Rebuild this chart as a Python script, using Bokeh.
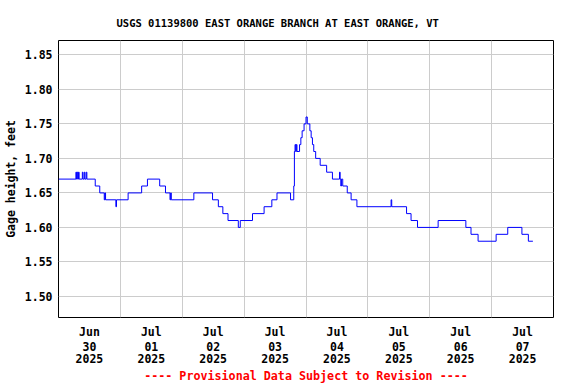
import pandas as pd
from bokeh.plotting import figure
from bokeh.models import FixedTicker, Range1d, PrintfTickFormatter, Title, LinearAxis
from bokeh.embed import file_html
from bokeh.resources import INLINE

# ---- data (15-minute gage height readings, shown as level changes) ----
times = [
    "2025-06-30 00:00", "2025-06-30 06:45", "2025-06-30 07:00", "2025-06-30 07:15",
    "2025-06-30 07:30", "2025-06-30 07:45", "2025-06-30 08:00", "2025-06-30 09:15",
    "2025-06-30 09:30", "2025-06-30 10:00", "2025-06-30 10:15", "2025-06-30 10:45",
    "2025-06-30 11:00", "2025-06-30 14:15", "2025-06-30 16:00", "2025-06-30 17:45",
    "2025-06-30 18:00", "2025-06-30 18:15", "2025-06-30 22:15", "2025-06-30 22:30",
    "2025-07-01 03:00", "2025-07-01 08:15", "2025-07-01 10:30", "2025-07-01 15:15",
    "2025-07-01 17:30", "2025-07-01 19:15", "2025-07-01 19:30", "2025-07-01 19:45",
    "2025-07-02 04:30", "2025-07-02 11:45", "2025-07-02 14:00", "2025-07-02 15:45",
    "2025-07-02 17:45", "2025-07-02 21:45", "2025-07-02 22:30",
    "2025-07-03 03:15", "2025-07-03 07:45", "2025-07-03 10:45", "2025-07-03 12:45",
    "2025-07-03 18:00", "2025-07-03 19:15", "2025-07-03 19:30", "2025-07-03 19:45",
    "2025-07-03 20:00", "2025-07-03 20:15", "2025-07-03 20:30", "2025-07-03 21:30",
    "2025-07-03 22:00", "2025-07-03 22:30", "2025-07-03 23:15",
    "2025-07-04 00:00", "2025-07-04 00:30", "2025-07-04 01:30", "2025-07-04 02:00",
    "2025-07-04 02:30", "2025-07-04 03:00", "2025-07-04 03:45", "2025-07-04 05:30",
    "2025-07-04 08:00", "2025-07-04 10:15", "2025-07-04 13:00", "2025-07-04 13:15",
    "2025-07-04 13:30", "2025-07-04 13:45", "2025-07-04 14:15", "2025-07-04 16:00",
    "2025-07-04 17:30", "2025-07-04 19:45",
    "2025-07-05 09:00", "2025-07-05 09:15", "2025-07-05 15:00", "2025-07-05 16:45",
    "2025-07-05 19:15",
    "2025-07-06 03:15", "2025-07-06 14:00", "2025-07-06 16:00", "2025-07-06 18:45",
    "2025-07-07 01:45", "2025-07-07 06:15", "2025-07-07 11:45", "2025-07-07 14:15",
    "2025-07-07 16:00",
]
gage_ft = [
    1.67, 1.68, 1.67, 1.68,
    1.67, 1.68, 1.67, 1.68,
    1.67, 1.68, 1.67, 1.68,
    1.67, 1.66, 1.65, 1.64,
    1.65, 1.64, 1.63, 1.64,
    1.65, 1.66, 1.67, 1.66,
    1.65, 1.64, 1.65, 1.64,
    1.65, 1.64, 1.63, 1.62,
    1.61, 1.60, 1.61,
    1.62, 1.63, 1.64, 1.65,
    1.64, 1.66, 1.71, 1.72,
    1.71, 1.72, 1.71, 1.72,
    1.73, 1.74, 1.75,
    1.76, 1.75, 1.74, 1.73,
    1.72, 1.71, 1.70, 1.69,
    1.68, 1.67, 1.68, 1.67,
    1.66, 1.67, 1.66, 1.65,
    1.64, 1.63,
    1.64, 1.63, 1.62, 1.61,
    1.60,
    1.61, 1.60, 1.59, 1.58,
    1.59, 1.60, 1.59, 1.58,
    1.58,
]

day_ticks = ["2025-06-30 12:00", "2025-07-01 12:00", "2025-07-02 12:00", "2025-07-03 12:00",
             "2025-07-04 12:00", "2025-07-05 12:00", "2025-07-06 12:00", "2025-07-07 12:00"]
tick_months = ["Jun", "Jul", "Jul", "Jul", "Jul", "Jul", "Jul", "Jul"]
tick_days = ["30", "01", "02", "03", "04", "05", "06", "07"]
tick_years = ["2025", "2025", "2025", "2025", "2025", "2025", "2025", "2025"]
day_grid = ["2025-07-01", "2025-07-02", "2025-07-03", "2025-07-04",
            "2025-07-05", "2025-07-06", "2025-07-07"]
y_ticks = [1.50, 1.55, 1.60, 1.65, 1.70, 1.75, 1.80, 1.85]
x_start, x_end = "2025-06-30 00:00", "2025-07-08 00:00"
y_start, y_end = 1.4695, 1.8708

title_text = "USGS 01139800 EAST ORANGE BRANCH AT EAST ORANGE, VT"
footer_text = "---- Provisional Data Subject to Revision ----"
y_label = "Gage height, feet"


def ms(s):
    return int(pd.Timestamp(s).value // 10**6)


FONT = "DejaVu Sans Mono"
LABEL_SIZE = "11.5px"

p = figure(width=576, height=384, x_axis_type="datetime",
           output_backend="svg", toolbar_location=None,
           x_range=Range1d(ms(x_start), ms(x_end)),
           y_range=Range1d(y_start, y_end),
           min_border_left=58, min_border_right=23,
           min_border_top=40, min_border_bottom=0)

p.step(x=pd.to_datetime(times), y=gage_ft, mode="after",
       line_color="#0000ff", line_width=1)

# title
p.title.text = title_text
p.title.align = "left"
p.title.offset = 58
p.title.text_font = FONT
p.title.text_font_size = "10.5px"
p.title.text_font_style = "bold"
p.title.text_color = "black"
p.title.standoff = 24

tick_ms = [ms(t) for t in day_ticks]


def style_axis(ax):
    ax.axis_line_color = None
    ax.major_tick_line_color = None
    ax.minor_tick_line_color = None
    ax.major_tick_in = 0
    ax.major_tick_out = 0
    ax.minor_tick_in = 0
    ax.minor_tick_out = 0
    ax.major_label_text_font = FONT
    ax.major_label_text_font_size = LABEL_SIZE
    ax.major_label_text_font_style = "bold"
    ax.major_label_text_color = "black"


# x axis: three stacked rows (month / day / year)
p.xaxis.ticker = FixedTicker(ticks=tick_ms)
p.xaxis.major_label_overrides = {t: lab for t, lab in zip(tick_ms, tick_months)}
p.xaxis.major_label_standoff = 7
style_axis(p.xaxis[0])

for labels in (tick_days, tick_years):
    ax = LinearAxis(ticker=FixedTicker(ticks=tick_ms),
                    major_label_overrides={t: lab for t, lab in zip(tick_ms, labels)},
                    major_label_standoff=0)
    style_axis(ax)
    p.add_layout(ax, "below")

p.add_layout(Title(text=footer_text, align="center", text_color="red",
                   text_font=FONT, text_font_size="11.7px",
                   text_font_style="bold", standoff=3), "below")

p.xgrid.ticker = FixedTicker(ticks=[ms(t) for t in day_grid])

# y axis
p.yaxis.ticker = FixedTicker(ticks=y_ticks)
p.yaxis.formatter = PrintfTickFormatter(format="%.2f")
p.ygrid.ticker = FixedTicker(ticks=y_ticks)
p.yaxis.axis_label = y_label
style_axis(p.yaxis[0])
p.yaxis.major_label_standoff = 6
p.yaxis.axis_label_text_font = FONT
p.yaxis.axis_label_text_font_size = "11.5px"
p.yaxis.axis_label_text_font_style = "bold"
p.yaxis.axis_label_text_color = "black"
p.yaxis.axis_label_standoff = 4

p.xgrid.grid_line_color = "#cccccc"
p.ygrid.grid_line_color = "#cccccc"
p.xgrid.grid_line_width = 1
p.ygrid.grid_line_width = 1

p.outline_line_color = "black"
p.outline_line_width = 1
p.background_fill_color = "white"
p.border_fill_color = "white"

open("out.html", "w").write(file_html(p, INLINE))
